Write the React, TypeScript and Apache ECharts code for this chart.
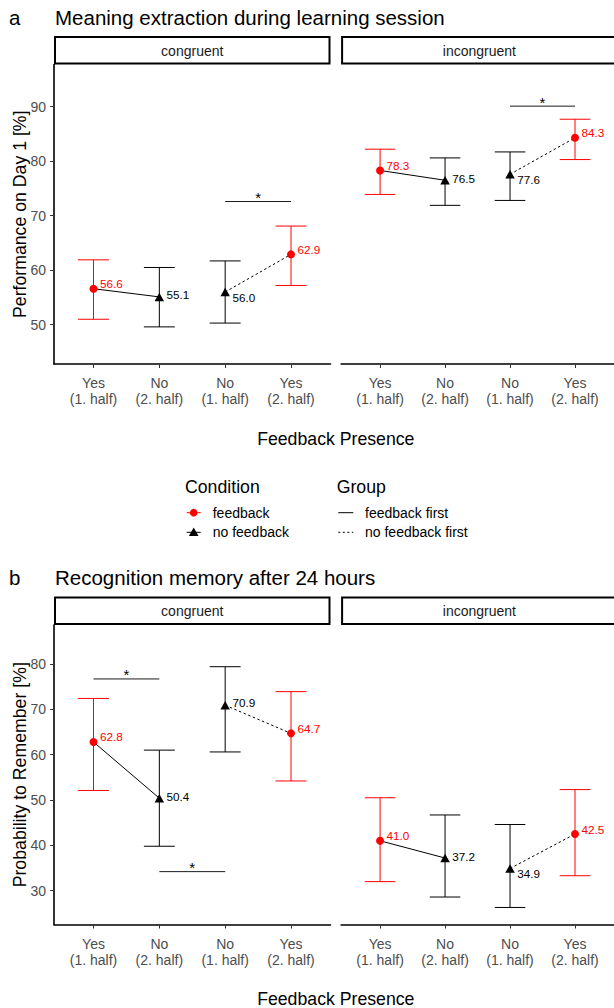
import React, { useEffect, useRef } from "react";
import * as echarts from "echarts";

// ---------- data ----------
const categories = ["Yes\n(1. half)", "No\n(2. half)", "No\n(1. half)", "Yes\n(2. half)"];
const conditions = ["feedback", "no feedback", "no feedback", "feedback"];
const groups = ["feedback first", "feedback first", "no feedback first", "no feedback first"];
const facetNames = ["congruent", "incongruent"];

// Panel a: Meaning extraction during learning session
const meaningCongMean = [56.6, 55.1, 56.0, 62.9];
const meaningCongLow = [51.0, 49.6, 50.3, 57.2];
const meaningCongHigh = [61.9, 60.5, 61.7, 68.1];
const meaningIncMean = [78.3, 76.5, 77.6, 84.3];
const meaningIncLow = [73.9, 71.9, 72.8, 80.3];
const meaningIncHigh = [82.2, 80.6, 81.7, 87.7];
const meaningCongSig = [[3, 4, 72.6]];
const meaningIncSig = [[3, 4, 90.1]];
const meaningYTicks = [50, 60, 70, 80, 90];

// Panel b: Recognition memory after 24 hours
const memoryCongMean = [62.8, 50.4, 70.9, 64.7];
const memoryCongLow = [52.1, 39.8, 60.6, 54.2];
const memoryCongHigh = [72.4, 61.0, 79.4, 73.9];
const memoryIncMean = [41.0, 37.2, 34.9, 42.5];
const memoryIncLow = [32.0, 28.6, 26.3, 33.3];
const memoryIncHigh = [50.5, 46.7, 44.6, 52.3];
const memoryCongSig = [[1, 2, 76.7], [2, 3, 34.2]];
const memoryIncSig: number[][] = [];
const memoryYTicks = [30, 40, 50, 60, 70, 80];

// ---------- style ----------
const RED = "#ff0000";
const BLACK = "#000000";
const FONT = '"Liberation Sans", Arial, Helvetica, sans-serif';
const CAP = 0.235;

const panels = [
  {
    letter: "a",
    title: "Meaning extraction during learning session",
    yTitle: "Performance on Day 1 [%]",
    ticks: meaningYTicks,
    yMin: 42.79,
    yMax: 97.74,
    top: 64.5,
    bottom: 364,
    stripTop: 37,
    titleY: 17,
    xTitleY: 439,
    facets: [
      { mean: meaningCongMean, low: meaningCongLow, high: meaningCongHigh, sig: meaningCongSig },
      { mean: meaningIncMean, low: meaningIncLow, high: meaningIncHigh, sig: meaningIncSig },
    ],
  },
  {
    letter: "b",
    title: "Recognition memory after 24 hours",
    yTitle: "Probability to Remember [%]",
    ticks: memoryYTicks,
    yMin: 22.54,
    yMax: 88.6,
    top: 625,
    bottom: 924.5,
    stripTop: 597.5,
    titleY: 577,
    xTitleY: 998.5,
    facets: [
      { mean: memoryCongMean, low: memoryCongLow, high: memoryCongHigh, sig: memoryCongSig },
      { mean: memoryIncMean, low: memoryIncLow, high: memoryIncHigh, sig: memoryIncSig },
    ],
  },
];

const facetLeft = [54, 341.1];
const facetWidth = 276.5;

function labelDy(mean: number[], i: number): number {
  if (conditions[i] === "feedback") return -5;
  // put the label on the side away from the connecting line
  if (i === 2) return mean[3] > mean[2] ? 5 : -3;
  return mean[0] > mean[i] ? -2 : 3;
}

function buildOption() {
  const grid: any[] = [];
  const xAxis: any[] = [];
  const yAxis: any[] = [];
  const series: any[] = [];
  const graphic: any[] = [];

  panels.forEach((p, pi) => {
    graphic.push({
      type: "text",
      x: 9,
      y: p.titleY,
      style: { text: p.letter, fill: BLACK, font: `20.5px ${FONT}`, textAlign: "left", textVerticalAlign: "middle" },
    });
    graphic.push({
      type: "text",
      x: 55,
      y: p.titleY,
      style: { text: p.title, fill: BLACK, font: `20.5px ${FONT}`, textAlign: "left", textVerticalAlign: "middle" },
    });
    graphic.push({
      type: "text",
      x: 20,
      y: (p.top + p.bottom) / 2,
      rotation: Math.PI / 2,
      style: { text: p.yTitle, fill: BLACK, font: `17.7px ${FONT}`, textAlign: "center", textVerticalAlign: "middle" },
    });
    graphic.push({
      type: "text",
      x: (facetLeft[0] + facetLeft[1] + facetWidth) / 2,
      y: p.xTitleY,
      style: { text: "Feedback Presence", fill: BLACK, font: `17.7px ${FONT}`, textAlign: "center", textVerticalAlign: "middle" },
    });

    p.facets.forEach((f, fi) => {
      const gi = pi * 2 + fi;
      graphic.push({
        type: "rect",
        shape: { x: facetLeft[fi] + 1, y: p.stripTop, width: facetWidth - 2, height: p.top - p.stripTop - 1 },
        style: { fill: "#ffffff", stroke: BLACK, lineWidth: 2 },
      });
      graphic.push({
        type: "text",
        x: facetLeft[fi] + facetWidth / 2,
        y: (p.stripTop + p.top) / 2,
        style: { text: facetNames[fi], fill: "#1a1a1a", font: `14px ${FONT}`, textAlign: "center", textVerticalAlign: "middle" },
      });

      grid.push({ left: facetLeft[fi], width: facetWidth, top: p.top, height: p.bottom - p.top, containLabel: false });
      xAxis.push({
        type: "value",
        gridIndex: gi,
        min: 0.4,
        max: 4.6,
        axisLine: { show: true, onZero: false, lineStyle: { color: BLACK, width: 1.6 } },
        axisTick: { show: true, customValues: [1, 2, 3, 4], length: 4, lineStyle: { color: "#333333", width: 1 } },
        axisLabel: {
          show: true,
          customValues: [1, 2, 3, 4],
          formatter: (v: number) => categories[Math.round(v) - 1] || "",
          color: "#4d4d4d",
          fontSize: 14,
          fontFamily: FONT,
          lineHeight: 16,
          margin: 11,
        },
        splitLine: { show: false },
      });
      yAxis.push({
        type: "value",
        gridIndex: gi,
        min: p.yMin,
        max: p.yMax,
        axisLine: { show: fi === 0, onZero: false, lineStyle: { color: BLACK, width: 1.6 } },
        axisTick: { show: fi === 0, customValues: p.ticks, length: 4, lineStyle: { color: "#333333", width: 1 } },
        axisLabel: {
          show: fi === 0,
          customValues: p.ticks,
          color: "#4d4d4d",
          fontSize: 14,
          fontFamily: FONT,
          margin: 8,
        },
        splitLine: { show: false },
      });

      // error bars
      series.push({
        type: "custom",
        xAxisIndex: gi,
        yAxisIndex: gi,
        z: 2,
        clip: false,
        encode: { x: 0, y: [1, 2] },
        data: categories.map((_, i) => [i + 1, f.low[i], f.high[i], conditions[i] === "feedback" ? 1 : 0]),
        renderItem: (params: any, api: any) => {
          const x = api.value(0);
          const lo = api.value(1);
          const hi = api.value(2);
          const color = api.value(3) ? RED : BLACK;
          const pt = api.coord([x, hi]);
          const pb = api.coord([x, lo]);
          const pr = api.coord([x + CAP, hi]);
          const half = pr[0] - pt[0];
          const st = { stroke: color, lineWidth: 1 };
          return {
            type: "group",
            children: [
              { type: "line", shape: { x1: pt[0], y1: pt[1], x2: pb[0], y2: pb[1] }, style: st },
              { type: "line", shape: { x1: pt[0] - half, y1: pt[1], x2: pt[0] + half, y2: pt[1] }, style: st },
              { type: "line", shape: { x1: pb[0] - half, y1: pb[1], x2: pb[0] + half, y2: pb[1] }, style: st },
            ],
          };
        },
      });

      // connecting lines
      ["feedback first", "no feedback first"].forEach((g) => {
        const idx = categories.map((_, i) => i).filter((i) => groups[i] === g);
        series.push({
          type: "line",
          xAxisIndex: gi,
          yAxisIndex: gi,
          z: 3,
          symbol: "none",
          silent: true,
          data: idx.map((i) => [i + 1, f.mean[i]]),
          lineStyle: { color: BLACK, width: 1, type: g === "feedback first" ? "solid" : [2.5, 2.5] },
        });
      });

      // points with labels
      ["feedback", "no feedback"].forEach((c) => {
        const idx = categories.map((_, i) => i).filter((i) => conditions[i] === c);
        const color = c === "feedback" ? RED : BLACK;
        series.push({
          type: "scatter",
          xAxisIndex: gi,
          yAxisIndex: gi,
          z: 4,
          symbol: c === "feedback" ? "circle" : "triangle",
          symbolSize: c === "feedback" ? 8 : [9.5, 8.5],
          itemStyle: { color, opacity: 1 },
          data: idx.map((i) => ({
            value: [i + 1, f.mean[i]],
            label: { offset: [0, labelDy(f.mean, i)], color },
          })),
          label: {
            show: true,
            position: "right",
            distance: 2.5,
            formatter: (d: any) => d.value[1].toFixed(1),
            color,
            textBorderWidth: 0,
            fontSize: 11.7,
            fontFamily: FONT,
          },
        });
      });

      // significance brackets
      series.push({
        type: "custom",
        xAxisIndex: gi,
        yAxisIndex: gi,
        z: 3,
        clip: false,
        encode: { x: [0, 1], y: 2 },
        data: f.sig,
        renderItem: (params: any, api: any) => {
          const a = api.coord([api.value(0), api.value(2)]);
          const b = api.coord([api.value(1), api.value(2)]);
          return {
            type: "group",
            children: [
              { type: "line", shape: { x1: a[0], y1: a[1], x2: b[0], y2: b[1] }, style: { stroke: "#1a1a1a", lineWidth: 1 } },
              {
                type: "text",
                x: (a[0] + b[0]) / 2,
                y: a[1] - 4,
                style: { text: "*", fill: BLACK, font: `15px ${FONT}`, textAlign: "center", textVerticalAlign: "middle" },
              },
            ],
          };
        },
      });
    });
  });

  // legend (ggplot style)
  const legendTitleY = 487.3;
  const row1 = 512.7;
  const row2 = 532.3;
  const legFont = `14px ${FONT}`;
  graphic.push(
    { type: "text", x: 185, y: legendTitleY, style: { text: "Condition", fill: BLACK, font: `17.7px ${FONT}`, textAlign: "left", textVerticalAlign: "middle" } },
    { type: "text", x: 336.7, y: legendTitleY, style: { text: "Group", fill: BLACK, font: `17.7px ${FONT}`, textAlign: "left", textVerticalAlign: "middle" } },
    { type: "line", shape: { x1: 186.7, y1: row1, x2: 200.7, y2: row1 }, style: { stroke: RED, lineWidth: 1 } },
    { type: "circle", shape: { cx: 193.7, cy: row1, r: 3.8 }, style: { fill: RED } },
    { type: "text", x: 212.7, y: row1, style: { text: "feedback", fill: BLACK, font: legFont, textAlign: "left", textVerticalAlign: "middle" } },
    { type: "line", shape: { x1: 186.7, y1: row2, x2: 200.7, y2: row2 }, style: { stroke: BLACK, lineWidth: 1 } },
    { type: "polygon", shape: { points: [[193.7, row2 - 4.8], [188.9, row2 + 3.6], [198.5, row2 + 3.6]] }, style: { fill: BLACK } },
    { type: "text", x: 212.7, y: row2, style: { text: "no feedback", fill: BLACK, font: legFont, textAlign: "left", textVerticalAlign: "middle" } },
    { type: "line", shape: { x1: 338.3, y1: row1, x2: 353.3, y2: row1 }, style: { stroke: BLACK, lineWidth: 1 } },
    { type: "text", x: 365, y: row1, style: { text: "feedback first", fill: BLACK, font: legFont, textAlign: "left", textVerticalAlign: "middle" } },
    { type: "line", shape: { x1: 338.3, y1: row2, x2: 353.3, y2: row2 }, style: { stroke: BLACK, lineWidth: 1, lineDash: [2, 2.5] } },
    { type: "text", x: 365, y: row2, style: { text: "no feedback first", fill: BLACK, font: legFont, textAlign: "left", textVerticalAlign: "middle" } }
  );

  return {
    animation: false,
    backgroundColor: "#ffffff",
    textStyle: { fontFamily: FONT },
    grid,
    xAxis,
    yAxis,
    series,
    graphic,
  };
}

export default function App() {
  const ref = useRef<HTMLDivElement>(null);
  useEffect(() => {
    if (!ref.current) return;
    const chart = echarts.init(ref.current, undefined, { renderer: "svg" });
    chart.setOption(buildOption() as any);
    return () => chart.dispose();
  }, []);
  return (
    <div
      ref={ref}
      style={{ position: "fixed", left: 0, top: 0, width: 614, height: 1008, background: "#ffffff" }}
    />
  );
}
